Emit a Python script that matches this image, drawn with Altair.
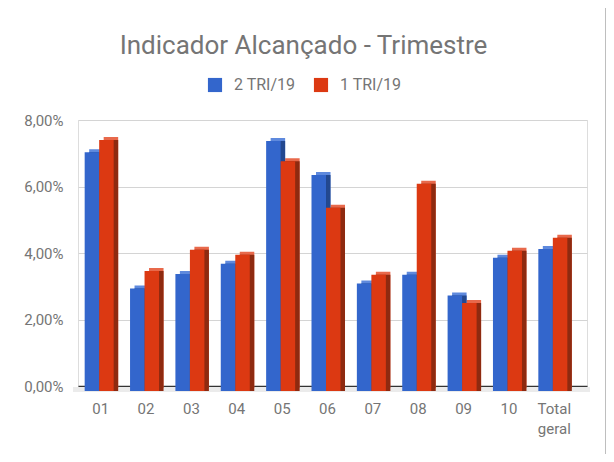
import altair as alt
import pandas as pd

categorias = ["01", "02", "03", "04", "05", "06", "07", "08", "09", "10", "Total geral"]
tri_2_19 = [7.18, 3.08, 3.52, 3.83, 7.52, 6.50, 3.23, 3.50, 2.87, 4.01, 4.27]
tri_1_19 = [7.55, 3.61, 4.25, 4.10, 6.91, 5.51, 3.50, 6.23, 2.65, 4.22, 4.61]
series = ["2 TRI/19", "1 TRI/19"]
ticks_y = [0, 2, 4, 6, 8]
titulo = "Indicador Alcançado - Trimestre"

cores_frente = ["#3366CC", "#DC3912"]
cores_topo = ["#5E89DD", "#E8694B"]
cores_lado = ["#23488F", "#8E2A10"]

rows = []
for c, a, b in zip(categorias, tri_2_19, tri_1_19):
    rows.append({"cat": c, "serie": series[0], "v": a})
    rows.append({"cat": c, "serie": series[1], "v": b})
df = pd.DataFrame(rows)

FONT = "Roboto"
GREY = "#757575"

x = alt.X(
    "cat:N", sort=categorias,
    scale=alt.Scale(paddingInner=0, paddingOuter=0.11, align=0),
    axis=alt.Axis(title=None, labelAngle=0, ticks=False, domain=True,
                  domainColor="#333333", domainWidth=1.5,
                  labelColor=GREY, labelFont=FONT, labelFontSize=15,
                  labelPadding=15, labelLineHeight=20, labelBaseline="top",
                  labelExpr="split(datum.label, ' ')", grid=False),
)
y = alt.Y(
    "v:Q", scale=alt.Scale(domain=[0, 8], nice=False),
    axis=alt.Axis(title=None, values=ticks_y, ticks=False, domain=False,
                  labelExpr="replace(format(datum.value, '.2f'), '.', ',') + '%'",
                  gridColor="#d4d4d4", gridWidth=1,
                  labelColor=GREY, labelFont=FONT, labelFontSize=15, labelPadding=15),
)


def camada(cores, align, dy, dy2, legend):
    xo = alt.XOffset("serie:N", sort=series,
                     scale=alt.Scale(domain=series, paddingInner=0, paddingOuter=0.564, align=align))
    return alt.Chart(df).mark_bar(yOffset=dy, y2Offset=dy2).encode(
        x=x, xOffset=xo, y=y,
        color=alt.Color("serie:N", scale=alt.Scale(domain=series, range=cores), legend=legend),
    )


legenda = alt.Legend(title=None, orient="none", legendX=129, legendY=-43,
                     direction="horizontal", symbolType="square", symbolSize=200,
                     symbolStrokeWidth=0, labelFontSize=16, labelColor=GREY,
                     labelFont=FONT, columnPadding=17, labelOffset=11)

chao = alt.Chart(alt.Data(values=[{}])).mark_rect(color="#ebebeb").encode(
    x=alt.value(-5), x2=alt.value(512), y=alt.value(267), y2=alt.value(272))
borda = alt.Chart(alt.Data(values=[{}])).mark_rule(color="#a8a8a8", strokeWidth=1.5).encode(
    x=alt.value(528), y=alt.value(-112), y2=alt.value(334))
texto_titulo = alt.Chart(alt.Data(values=[{"t": titulo}])).mark_text(
    font=FONT, fontSize=26, color=GREY, align="center", baseline="alphabetic"
).encode(text="t:N", x=alt.value(225.5), y=alt.value(-66))

topo = camada(cores_topo, 0.683, 2, 5, None)
lado = camada(cores_lado, 0.683, 5, 4, None)
frente = camada(cores_frente, 0.408, 5, 5, legenda)

chart = alt.layer(chao, topo, lado, frente, borda, texto_titulo).resolve_scale(
    color="independent", xOffset="independent"
).properties(
    width=509, height=266,
    padding={"left": 70, "top": 112, "right": 19, "bottom": 68},
    autosize=alt.AutoSizeParams(type="none"),
).configure_view(stroke=None).configure(background="white")

chart.save("out.html", embed_options={"renderer": "svg", "actions": False})
